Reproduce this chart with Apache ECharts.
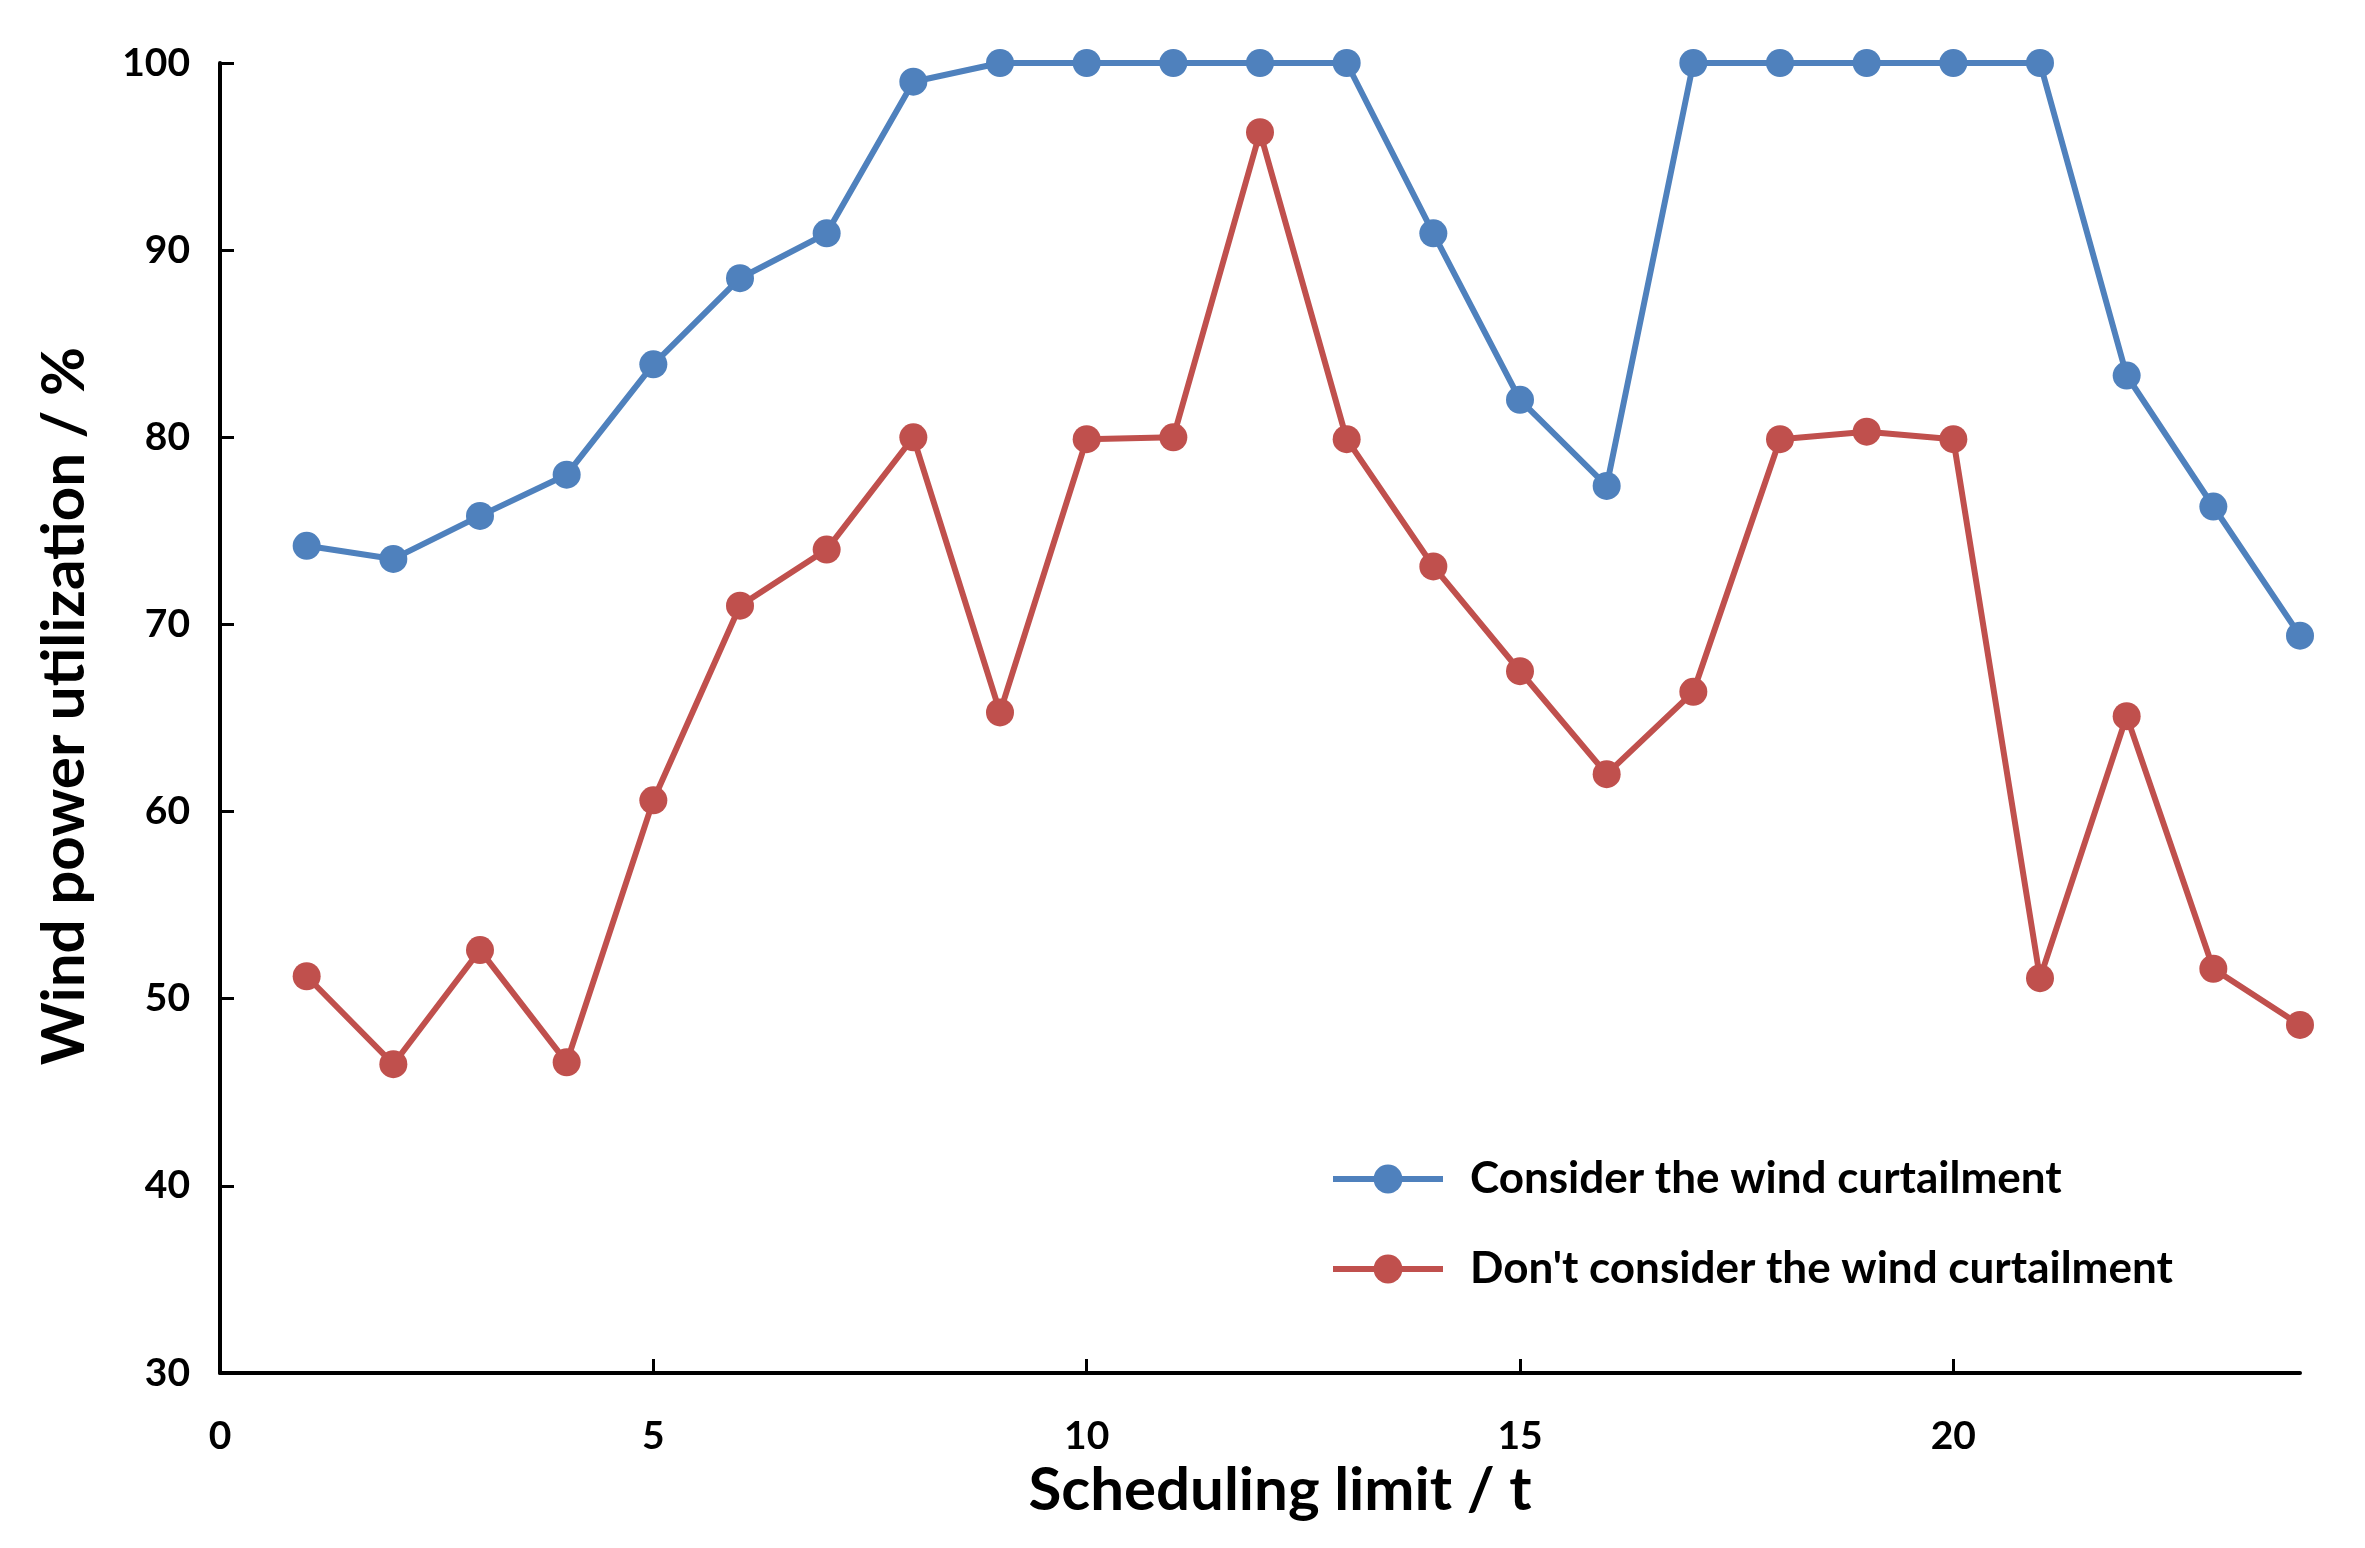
<!DOCTYPE html>
<html>
<head>
<meta charset="utf-8">
<script src="https://cdn.jsdelivr.net/npm/echarts@6/dist/echarts.min.js"></script>
<style>
html,body{margin:0;padding:0;background:#fff;}
#chart{width:2365px;height:1548px;}
</style>
</head>
<body>
<div id="chart"></div>
<script>
const xValues = [1,2,3,4,5,6,7,8,9,10,11,12,13,14,15,16,17,18,19,20,21,22,23,24];
const considerCurtailment = [74.2,73.5,75.8,78.0,83.9,88.5,90.9,99.0,100,100,100,100,100,90.9,82.0,77.4,100,100,100,100,100,83.3,76.3,69.4];
const noCurtailment = [51.2,46.5,52.6,46.6,60.6,71.0,74.0,80.0,65.3,79.9,80.0,96.3,79.9,73.1,67.5,62.0,66.4,79.9,80.3,79.9,51.1,65.1,51.6,48.6];
const xTicks = [0,5,10,15,20];
const seriesNames = ['Consider the wind curtailment', "Don't consider the wind curtailment"];

const FONT = 'Lato, "Open Sans", sans-serif';
const chart = echarts.init(document.getElementById('chart'));
const pair = (vals) => xValues.map((x, i) => [x, vals[i]]);

chart.setOption({
  animation: false,
  backgroundColor: '#ffffff',
  grid: {left: 220, right: 65, top: 63, bottom: 175, containLabel: false},
  legend: {
    orient: 'vertical',
    left: 1325,
    top: 1152,
    itemWidth: 110,
    itemHeight: 36,
    itemGap: 46,
    lineStyle: {width: 6},
    textStyle: {fontFamily: FONT, fontWeight: 'bold', fontSize: 44, color: '#000', padding: [0,0,0,22]},
    data: seriesNames
  },
  xAxis: {
    type: 'value',
    min: 0, max: 24,
    interval: 5,
    name: 'Scheduling limit / t',
    nameLocation: 'middle',
    nameGap: 88,
    nameTextStyle: {fontFamily: FONT, fontWeight: 'bold', fontSize: 60, color: '#000', padding: [0,0,0,40]},
    axisLine: {show: true, onZero: false, lineStyle: {color: '#000', width: 4}},
    axisTick: {show: true, inside: true, length: 14, lineStyle: {color: '#000', width: 3}, customValues: xTicks},
    axisLabel: {fontFamily: FONT, fontWeight: 'bold', fontSize: 39, color: '#000', margin: 44, customValues: xTicks},
    splitLine: {show: false}
  },
  yAxis: {
    type: 'value',
    min: 30, max: 100,
    interval: 10,
    name: 'Wind power utilization / %',
    nameLocation: 'middle',
    nameGap: 125,
    nameTextStyle: {fontFamily: FONT, fontWeight: 'bold', fontSize: 60, color: '#000', padding: [0,0,0,24]},
    axisLine: {show: true, lineStyle: {color: '#000', width: 4}},
    axisTick: {show: true, inside: true, length: 14, lineStyle: {color: '#000', width: 3}},
    axisLabel: {fontFamily: FONT, fontWeight: 'bold', fontSize: 39, color: '#000', margin: 30},
    splitLine: {show: false}
  },
  series: [
    {
      name: seriesNames[0],
      type: 'line',
      data: pair(considerCurtailment),
      symbol: 'circle',
      symbolSize: 28,
      itemStyle: {color: '#4f81bd'},
      lineStyle: {color: '#4f81bd', width: 6}
    },
    {
      name: seriesNames[1],
      type: 'line',
      data: pair(noCurtailment),
      symbol: 'circle',
      symbolSize: 28,
      itemStyle: {color: '#c0504d'},
      lineStyle: {color: '#c0504d', width: 6}
    }
  ]
});
</script>
</body>
</html>
